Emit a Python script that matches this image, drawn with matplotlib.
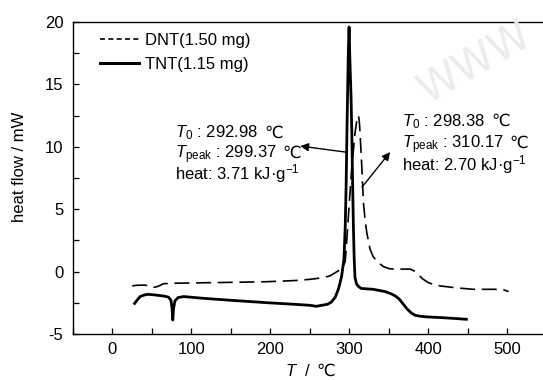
import matplotlib
matplotlib.use("Agg")
import matplotlib.pyplot as plt
from matplotlib.lines import Line2D
from matplotlib.ticker import MultipleLocator
from matplotlib import font_manager

# ---- data ----
tnt_T = [28, 31, 35, 40, 45, 55, 65, 71, 74, 75.5, 76.3, 77.2, 79, 83, 90, 115, 150, 195,
         230, 250, 258, 265, 272, 277, 282, 286, 290, 293, 294.6, 295.8, 297, 298.5, 299.5,
         300.5, 302, 303, 304, 305, 306, 307, 309, 311.5, 315, 330, 345, 352, 358, 363, 368,
         373, 378, 383, 390, 398, 420, 448]
tnt_Q = [-2.55, -2.3, -2.0, -1.88, -1.82, -1.88, -1.96, -2.05, -2.3, -3.0, -3.88, -3.0, -2.35,
         -2.08, -2.0, -2.14, -2.3, -2.49, -2.62, -2.7, -2.78, -2.7, -2.62, -2.45, -2.05, -1.4,
         -0.4, 1.0, 3.5, 7.0, 12.0, 17.5, 19.6, 17.0, 14.0, 11.0, 7.0, 3.5, 1.0, -0.5, -1.0,
         -1.2, -1.35, -1.42, -1.6, -1.76, -1.95, -2.2, -2.6, -3.0, -3.3, -3.5, -3.58, -3.63,
         -3.7, -3.82]

dnt_T = [25, 30, 40, 48, 52, 57, 64.6, 80, 120, 160, 195, 230, 250, 265, 275, 283, 288, 292,
         294.6, 296.6, 300, 303, 307, 309.5, 311.4, 312.5, 313.5, 315.6, 317.7, 320, 322, 326,
         330, 335, 343, 351, 365, 377, 382, 387.6, 393, 400, 408, 415, 435, 457, 490, 496, 501.5]
dnt_Q = [-1.15, -1.1, -1.08, -1.15, -1.26, -1.2, -0.97, -0.93, -0.89, -0.85, -0.81, -0.72,
         -0.62, -0.5, -0.35, -0.05, 0.15, 0.45, 0.8, 2.5, 5.7, 8.4, 11.1, 12.2, 12.5, 12.0,
         11.0, 8.4, 5.5, 4.0, 3.1, 1.8, 1.2, 0.8, 0.4, 0.22, 0.2, 0.2, 0.05, -0.27, -0.6,
         -0.89, -1.05, -1.15, -1.3, -1.42, -1.42, -1.48, -1.6]

legend_labels = ["DNT(1.50 mg)", "TNT(1.15 mg)"]
# each info line: (text before the degree sign, whether a ℃ follows)
tnt_info = [("$T_0$ : 292.98", True), ("$T_{\\rm peak}$ : 299.37", True),
            ("heat: 3.71 kJ·g$^{-1}$", False)]
dnt_info = [("$T_0$ : 298.38", True), ("$T_{\\rm peak}$ : 310.17", True),
            ("heat: 2.70 kJ·g$^{-1}$", False)]


def has_font(name):
    try:
        font_manager.findfont(font_manager.FontProperties(family=name),
                              fallback_to_default=False)
        return True
    except Exception:
        return False


if has_font("Liberation Sans Narrow"):
    MAIN = "Liberation Sans Narrow"
    FS = 13
else:
    MAIN = "Liberation Sans"
    FS = 12

plt.rcParams["font.family"] = [MAIN, "DejaVu Sans"]
plt.rcParams["mathtext.fontset"] = "custom"
plt.rcParams["mathtext.rm"] = MAIN
plt.rcParams["mathtext.it"] = MAIN + ":italic"
plt.rcParams["mathtext.fallback"] = "stixsans"
plt.rcParams["axes.unicode_minus"] = False

fig = plt.figure(figsize=(5.43, 3.80), dpi=100)
ax = fig.add_axes([73 / 543, 46 / 380, 1 - 73 / 543, (334 - 22) / 380])

fig.text(0.875, 0.835, "WWW", rotation=30, fontsize=30, color="#ececec",
         ha="center", va="center", zorder=0, family="DejaVu Sans")

ax.plot(dnt_T, dnt_Q, color="black", lw=1.2, dashes=(9, 4))
ax.plot(tnt_T, tnt_Q, color="black", lw=2.0, solid_joinstyle="round")

ax.set_xlim(-50, 545)
ax.set_ylim(-5, 20)
ax.xaxis.set_major_locator(MultipleLocator(100))
ax.xaxis.set_minor_locator(MultipleLocator(50))
ax.yaxis.set_major_locator(MultipleLocator(5))
ax.yaxis.set_minor_locator(MultipleLocator(2.5))
ax.tick_params(which="both", direction="in", length=4.3, width=0.9, top=False, right=False,
               labelsize=FS)
ax.tick_params(axis="y", pad=7)
ax.tick_params(axis="x", pad=6)
for s in ["left", "bottom", "top"]:
    ax.spines[s].set_linewidth(1.0)
ax.spines["right"].set_visible(False)

ax.set_ylabel("heat flow / mW", fontsize=FS)
ax.yaxis.set_label_coords(-0.098, 0.535)

handles = [Line2D([], [], color="black", lw=1.2, dashes=(3, 2)),
           Line2D([], [], color="black", lw=2.2)]
leg = ax.legend(handles, legend_labels, loc="upper left", frameon=False, fontsize=FS,
                handlelength=2.35, handletextpad=0.35, labelspacing=0.55,
                bbox_to_anchor=(0.035, 1.0), borderaxespad=0.25)

renderer = fig.canvas.get_renderer()
DEG = dict(fontsize=FS, family=[MAIN, "DejaVu Sans"], va="baseline", ha="left")


def text_line(x, y, s, deg, transform, gap=4.0):
    t = ax.text(x, y, s, fontsize=FS, va="baseline", ha="left", transform=transform,
                clip_on=False)
    if deg:
        w = t.get_window_extent(renderer).width * 72 / fig.dpi
        ax.annotate("℃", xy=(x, y), xycoords=transform, xytext=(w + gap, 0),
                    textcoords="offset points", annotation_clip=False, **DEG)


for (s, d), yb in zip(tnt_info, [10.75, 9.1, 7.42]):
    text_line(79.6, yb, s, d, ax.transData)
for (s, d), yb in zip(dnt_info, [11.67, 9.9, 8.14]):
    text_line(367, yb, s, d, ax.transData)

# x label: "T / ℃"
text_line(0.452, -0.135, "$T$  /", True, ax.transAxes, gap=3.5)

ap = dict(arrowstyle="-|>", lw=1.0, color="black", mutation_scale=12, shrinkA=0, shrinkB=0)
ax.annotate("", xy=(237.7, 10.06), xytext=(294.6, 9.58), arrowprops=ap)
ax.annotate("", xy=(351.5, 9.58), xytext=(316, 6.78), arrowprops=ap)

fig.savefig("out.png", dpi=100)
